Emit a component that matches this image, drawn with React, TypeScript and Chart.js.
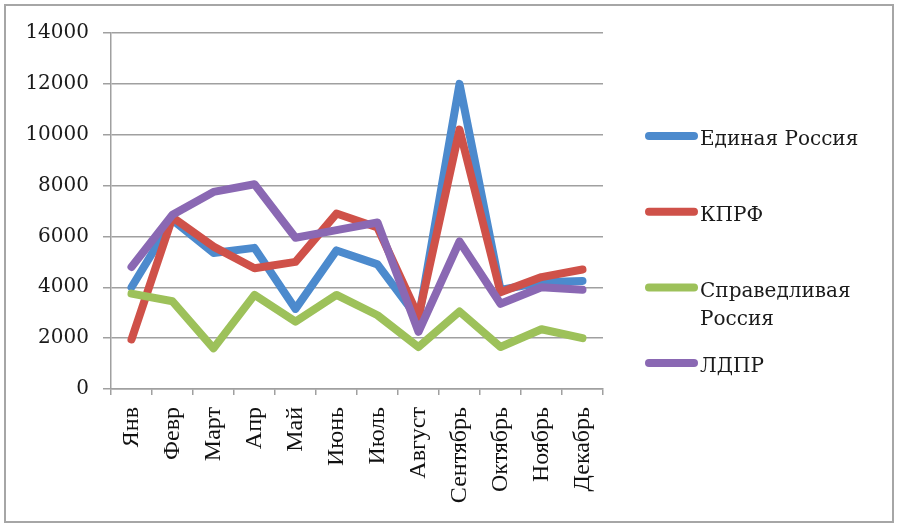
import React, { useEffect, useRef } from "react";
import { Chart, registerables } from "chart.js";

Chart.register(...registerables);

const categories = ["Янв", "Февр", "Март", "Апр", "Май", "Июнь", "Июль", "Август", "Сентябрь", "Октябрь", "Ноябрь", "Декабрь"];
const seriesNames = ["Единая Россия", "КПРФ", "Справедливая Россия", "ЛДПР"];
const legendLines = [["Единая Россия"], ["КПРФ"], ["Справедливая", "Россия"], ["ЛДПР"]];
const unitedRussia = [4000, 6650, 5350, 5550, 3150, 5450, 4900, 2750, 12000, 3900, 4200, 4250];
const kprf = [1950, 6750, 5600, 4750, 5000, 6900, 6350, 2850, 10200, 3800, 4400, 4700];
const justRussia = [3750, 3450, 1600, 3700, 2650, 3700, 2900, 1650, 3050, 1650, 2350, 2000];
const ldpr = [4800, 6850, 7750, 8050, 5950, 6250, 6550, 2250, 5800, 3350, 4000, 3900];
const yTicks = [0, 2000, 4000, 6000, 8000, 10000, 12000, 14000];
const colors = ["#4C8ACD", "#CF5149", "#9DC15A", "#8A68B3"];

const legendPlugin = {
  id: "customLegend",
  afterDraw(chart: any) {
    const ctx = chart.ctx;
    ctx.save();
    // outer border
    ctx.strokeStyle = "#a6a6a6";
    ctx.lineWidth = 2;
    ctx.strokeRect(5, 5, 888, 517);
    const startY = 136;
    const step = 75.7;
    chart.data.datasets.forEach((ds: any, i: number) => {
      const y = startY + step * i;
      ctx.strokeStyle = ds.borderColor;
      ctx.lineWidth = 8;
      ctx.lineCap = "round";
      ctx.beginPath();
      ctx.moveTo(649, y);
      ctx.lineTo(694, y);
      ctx.stroke();
      ctx.fillStyle = "#1a1a1a";
      ctx.font = '20px "DejaVu Serif"';
      ctx.textBaseline = "middle";
      ctx.textAlign = "left";
      const lines = legendLines[i];
      lines.forEach((t: string, j: number) => {
        ctx.fillText(t, 700, y + 4 + j * 28.5);
      });
    });
    ctx.restore();
  },
};

export default function App() {
  const ref = useRef<HTMLCanvasElement>(null);
  useEffect(() => {
    if (!ref.current) return;
    const series = [unitedRussia, kprf, justRussia, ldpr];
    const chart = new Chart(ref.current, {
      type: "line",
      data: {
        labels: categories,
        datasets: series.map((d, i) => ({
          label: seriesNames[i],
          data: d,
          borderColor: colors[i],
          backgroundColor: colors[i],
          borderWidth: 8,
          pointRadius: 0,
          tension: 0,
          borderJoinStyle: "round" as const,
          borderCapStyle: "round" as const,
          order: 4 - i,
        })),
      },
      options: {
        animation: false,
        responsive: false,
        maintainAspectRatio: false,
        layout: { padding: { left: 0, top: 33, right: 297, bottom: 0 } },
        plugins: {
          legend: { display: false },
          tooltip: { enabled: false },
        },
        scales: {
          x: {
            offset: true,
            grid: {
              display: true,
              offset: true,
              drawOnChartArea: false,
              drawTicks: true,
              tickLength: 6,
              color: "#a0a0a0",
              lineWidth: 1.5,
            },
            border: { display: true, color: "#a0a0a0", width: 1.5 },
            ticks: {
              autoSkip: false,
              maxRotation: 90,
              minRotation: 90,
              padding: 12,
              color: "#111",
              font: { family: '"Liberation Serif"', size: 24 },
            },
            afterFit(scale: any) {
              scale.height = 140;
            },
          },
          y: {
            min: 0,
            max: 14000,
            afterBuildTicks(scale: any) {
              scale.ticks = yTicks.map((v) => ({ value: v }));
            },
            grid: {
              color: "#a0a0a0",
              lineWidth: 1.5,
              drawTicks: true,
              tickLength: 8,
            },
            border: { display: true, color: "#a0a0a0", width: 1.5 },
            ticks: {
              padding: 14,
              color: "#1a1a1a",
              font: { family: '"DejaVu Serif"', size: 20 },
              callback: (v: any) => String(v),
            },
            afterFit(scale: any) {
              scale.width = 111;
            },
          },
        },
      },
      plugins: [legendPlugin],
    });
    return () => chart.destroy();
  }, []);
  return (
    <div style={{ position: "fixed", left: 0, top: 0, width: 900, height: 529, background: "#fff" }}>
      <canvas ref={ref} width={900} height={529} style={{ width: 900, height: 529 }} />
    </div>
  );
}
